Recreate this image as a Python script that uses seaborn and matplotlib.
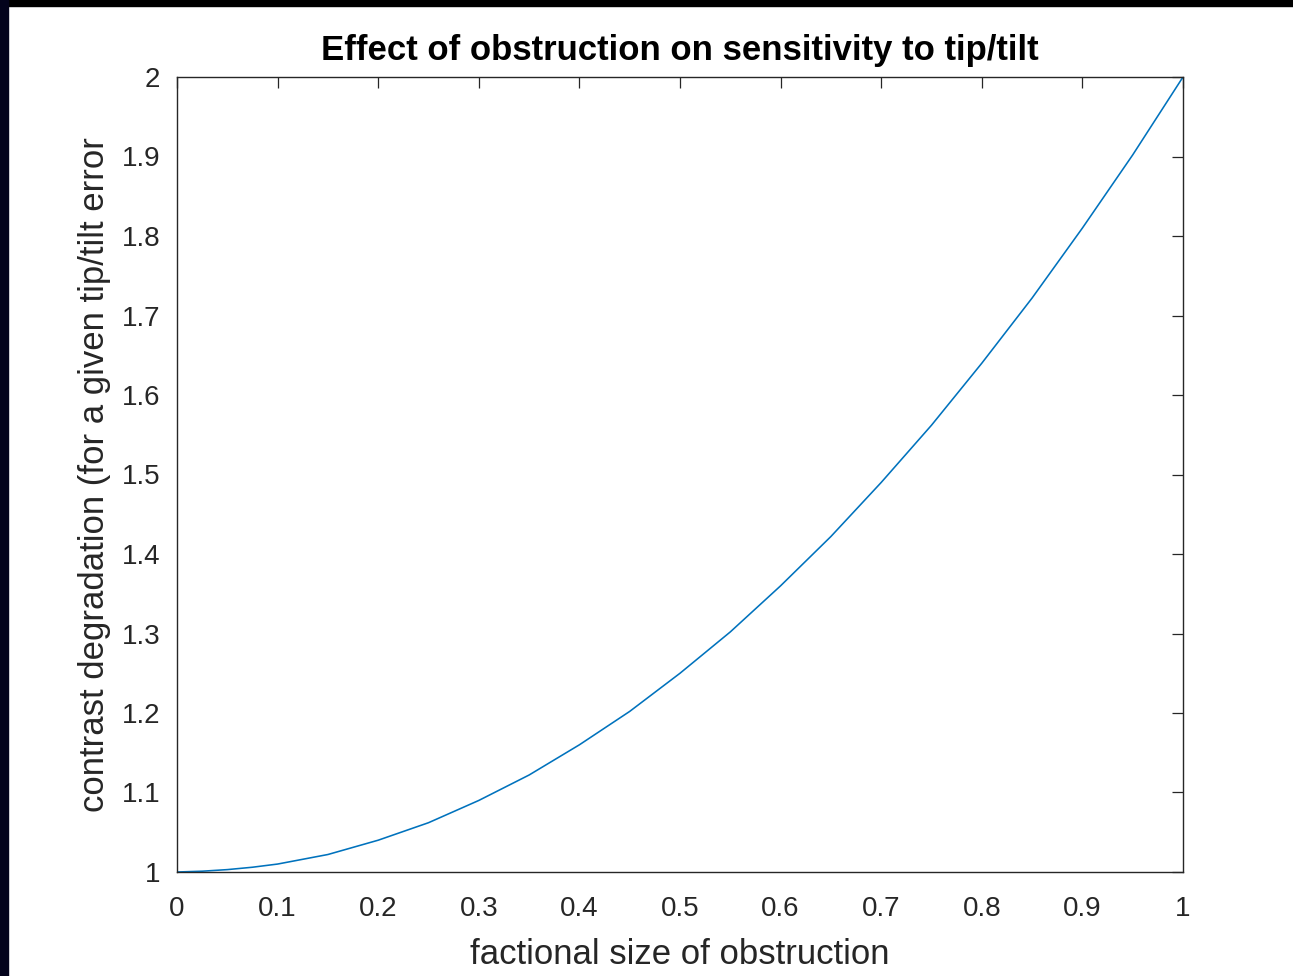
import numpy as np
import pandas as pd
import matplotlib
matplotlib.use("Agg")
import matplotlib.pyplot as plt
from matplotlib.patches import Rectangle
import seaborn as sns

# Values
obstruction = [0.0, 0.025, 0.05, 0.075, 0.10, 0.125, 0.15, 0.175, 0.20, 0.225,
               0.25, 0.275, 0.30, 0.325, 0.35, 0.375, 0.40, 0.425, 0.45, 0.475,
               0.50, 0.525, 0.55, 0.575, 0.60, 0.625, 0.65, 0.675, 0.70, 0.725,
               0.75, 0.775, 0.80, 0.825, 0.85, 0.875, 0.90, 0.925, 0.95, 0.975, 1.0]
degradation = [1.0, 1.001, 1.003, 1.006, 1.01, 1.016, 1.022, 1.031, 1.04, 1.051,
               1.062, 1.076, 1.09, 1.106, 1.122, 1.141, 1.16, 1.181, 1.202, 1.226,
               1.25, 1.276, 1.302, 1.331, 1.36, 1.391, 1.422, 1.456, 1.49, 1.526,
               1.562, 1.601, 1.64, 1.681, 1.722, 1.766, 1.81, 1.856, 1.902, 1.951, 2.0]
xticks = [0, 0.1, 0.2, 0.3, 0.4, 0.5, 0.6, 0.7, 0.8, 0.9, 1]
xticklabels = ["0", "0.1", "0.2", "0.3", "0.4", "0.5", "0.6", "0.7", "0.8", "0.9", "1"]
yticks = [1, 1.1, 1.2, 1.3, 1.4, 1.5, 1.6, 1.7, 1.8, 1.9, 2]
yticklabels = ["1", "1.1", "1.2", "1.3", "1.4", "1.5", "1.6", "1.7", "1.8", "1.9", "2"]

df = pd.DataFrame({"x": obstruction, "y": degradation})

sns.set_theme(style="white")
plt.rcParams["font.family"] = ["Liberation Sans", "DejaVu Sans"]

fig = plt.figure(figsize=(12.93, 9.76), dpi=100, facecolor="white")
ax = fig.add_axes([177 / 1293, 104 / 976, 1006 / 1293, 795 / 976])

sns.lineplot(data=df, x="x", y="y", ax=ax, color="#0072BD", linewidth=1.15)

ax.set_xlim(0, 1)
ax.set_ylim(1, 2)
ax.set_xticks(xticks)
ax.set_xticklabels(xticklabels)
ax.set_yticks(yticks)
ax.set_yticklabels(yticklabels)

axis_color = "#262626"
for s in ax.spines.values():
    s.set_visible(True)
    s.set_color(axis_color)
    s.set_linewidth(1.0)

ax.tick_params(axis="both", direction="in", length=8, width=0.9, color=axis_color,
               labelcolor=axis_color, labelsize=20, top=True, right=True)
ax.tick_params(axis="x", pad=17)
ax.tick_params(axis="y", pad=12)

ax.set_xlabel("factional size of obstruction", fontsize=25, color=axis_color, labelpad=12)
ax.set_ylabel("contrast degradation (for a given tip/tilt error", fontsize=25,
              color=axis_color, labelpad=8)
ax.set_title("Effect of obstruction on sensitivity to tip/tilt", fontsize=25,
             fontweight="bold", color="black", pad=12)

# dark slide border visible at top and left of the screenshot
fig.patches.append(Rectangle((0, 1 - 6 / 976), 1, 6 / 976, transform=fig.transFigure,
                             color="black", zorder=0))
fig.patches.append(Rectangle((0, 0), 8 / 1293, 1, transform=fig.transFigure,
                             color="#03031c", zorder=0))

fig.savefig("out.png", dpi=100, facecolor=fig.get_facecolor())
